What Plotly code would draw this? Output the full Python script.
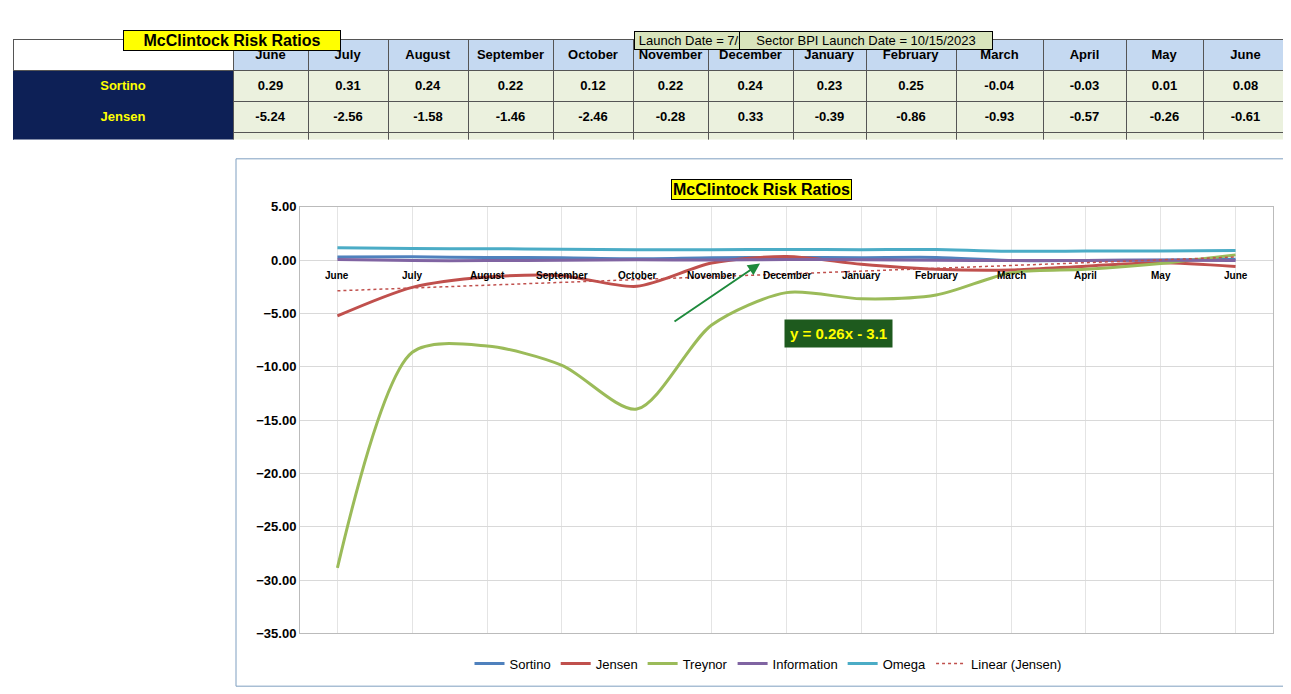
import numpy as np
import plotly.graph_objects as go

months = ["June", "July", "August", "September", "October", "November", "December",
          "January", "February", "March", "April", "May", "June"]
metrics = ["Sortino", "Jensen", "Treynor", "Information", "Omega"]
sortino = [0.29, 0.31, 0.24, 0.22, 0.12, 0.22, 0.24, 0.23, 0.25, -0.04, -0.03, 0.01, 0.08]
jensen = [-5.24, -2.56, -1.58, -1.46, -2.46, -0.28, 0.33, -0.39, -0.86, -0.93, -0.57, -0.26, -0.61]
treynor = [-28.87, -8.64, -8.06, -9.87, -13.97, -6.09, -3.05, -3.63, -3.28, -1.19, -0.87, -0.33, 0.49]
information = [0.05, -0.05, -0.05, -0.02, 0.03, 0.00, 0.06, 0.03, -0.01, -0.05, -0.03, -0.01, -0.05]
omega = [1.15, 1.08, 1.07, 1.02, 0.98, 0.98, 1.00, 0.98, 0.99, 0.83, 0.84, 0.86, 0.90]
series = [sortino, jensen, treynor, information, omega]
colors = ["#4f81bd", "#c0504d", "#9bbb59", "#8064a2", "#4bacc6"]

W, H = 1291, 694
px = lambda x: x / W
py = lambda y: 1 - y / H
FONT = "Liberation Sans, Arial"

fig = go.Figure()

# table at the top
col_px = [220, 75, 80, 80, 85, 80, 75, 85, 73, 90, 87, 83, 77, 85]
fig.add_trace(go.Table(
    domain=dict(x=[px(5), px(1280)], y=[py(128), py(25)]),
    columnwidth=col_px,
    header=dict(values=[""] + [f"<b>{m}</b>" for m in months], height=17,
                fill_color=["white"] + ["#c5d9f1"] * 13, line_color="#555",
                font=dict(family=FONT, size=13, color="black"), align="center"),
    cells=dict(values=[[f"<b>{m}</b>" for m in metrics]] +
               [[f"<b>{s[i]:.2f}</b>" for s in series] for i in range(13)],
               height=17, line_color=["#0d2056"] + ["#555"] * 13,
               fill_color=["#0d2056"] + ["#ebf1de"] * 13,
               font=dict(family=FONT, size=13, color=["#ffff00"] + ["black"] * 13),
               align="center"),
))

for name, s, c in zip(metrics, series, colors):
    fig.add_trace(go.Scatter(x=list(range(13)), y=s, name=name, mode="lines",
                             line=dict(color=c, width=3, shape="spline", smoothing=0.8)))

# linear trendline for Jensen
k, b = np.polyfit(np.arange(1, 14), jensen, 1)
fig.add_trace(go.Scatter(x=list(range(13)), y=list(k * np.arange(1, 14) + b), name="Linear (Jensen)",
                         mode="lines", line=dict(color="#c0504d", width=1.5, dash="dot")))

fig.update_layout(
    width=W, height=H, margin=dict(l=0, r=0, t=0, b=0),
    paper_bgcolor="white", plot_bgcolor="white",
    font=dict(family=FONT, size=12, color="black"),
    xaxis=dict(domain=[px(292), px(1265)], range=[-0.5, 12.5], showticklabels=False,
               showgrid=True, gridcolor="#e4e4e4", tickvals=list(range(13)),
               zeroline=False, showline=True, linecolor="#bbb", mirror=True),
    yaxis=dict(domain=[py(632), py(196)], range=[-35, 5], dtick=5, tickformat=".2f",
               showgrid=True, gridcolor="#d9d9d9", zeroline=False,
               tickfont=dict(size=13, family=FONT), showline=True, linecolor="#bbb", mirror=True),
    legend=dict(orientation="h", x=px(760), xanchor="center", y=py(663), yanchor="middle",
                font=dict(size=13, family=FONT)),
    showlegend=True,
)
fig.update_yaxes(tickprefix="<b>", ticksuffix="</b>")

for i, m in enumerate(months):
    fig.add_annotation(x=i, y=0, text=f"<b>{m}</b>", showarrow=False, yshift=-15,
                       font=dict(size=10, family=FONT))

# chart frame
fig.add_shape(type="rect", xref="paper", yref="paper", x0=px(228), x1=px(1280), y0=py(686), y1=py(147),
              line=dict(color="#7f9fc0", width=1), layer="below")
# boxes
fig.add_annotation(xref="paper", yref="paper", x=px(115), y=py(15), text="<b>McClintock Risk Ratios</b>",
                   showarrow=False, bgcolor="#ffff00", bordercolor="black", borderwidth=1,
                   width=214, height=17, font=dict(size=16, family=FONT))
fig.add_annotation(xref="paper", yref="paper", x=px(704), y=py(16), text="Launch Date = 7/31/2019",
                   showarrow=False, bgcolor="#d8e4bc", bordercolor="black", borderwidth=1,
                   width=152, height=15, font=dict(size=13, family=FONT))
fig.add_annotation(xref="paper", yref="paper", x=px(985), y=py(16), text="Sector BPI Launch Date = 10/15/2023",
                   showarrow=False, bgcolor="#d8e4bc", bordercolor="black", borderwidth=1,
                   width=250, height=15, font=dict(size=13, family=FONT))
fig.add_annotation(xref="paper", yref="paper", x=px(753), y=py(168), text="<b>McClintock Risk Ratios</b>",
                   showarrow=False, bgcolor="#ffff00", bordercolor="black", borderwidth=1,
                   font=dict(size=16, family=FONT))
fig.add_annotation(xref="paper", yref="paper", x=px(830), y=py(326), text=f"<b>y = {k:.2f}x - {abs(b):.1f}</b>",
                   showarrow=False, bgcolor="#1e5a1e", font=dict(size=15, color="#ffff00", family=FONT),
                   borderpad=5)
fig.add_annotation(xref="paper", yref="paper", x=px(752), y=py(254), ax=-87, ay=59,
                   text="", showarrow=True, arrowhead=2,
                   arrowcolor="#1e8a3c", arrowwidth=2, arrowsize=1.2)

fig.write_html("out.html")
